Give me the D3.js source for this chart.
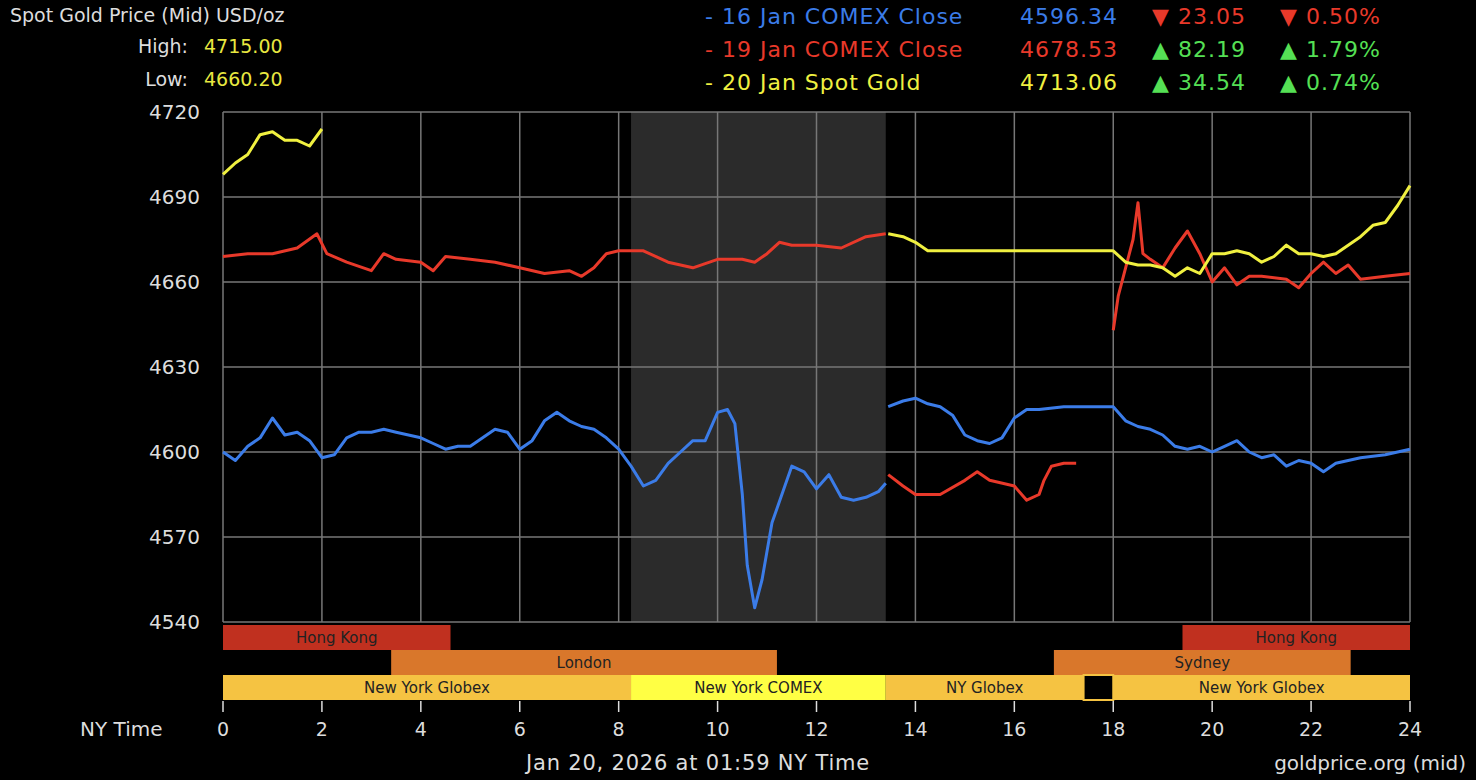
<!DOCTYPE html>
<html><head><meta charset="utf-8">
<script src="https://cdn.jsdelivr.net/npm/d3@7"></script>
<style>body{margin:0;background:#000}svg{display:block;font-family:"DejaVu Sans",Verdana,sans-serif}</style>
</head><body><svg width="1476" height="780"></svg>
<script>
// [hour, price] per series, segments split where the feed gaps
var blueA = [[0,4600],[0.25,4597],[0.5,4602],[0.75,4605],[1,4612],[1.25,4606],[1.5,4607],[1.75,4604],[2,4598],[2.25,4599],[2.5,4605],[2.75,4607],[3,4607],[3.25,4608],[3.5,4607],[3.75,4606],[4,4605],[4.25,4603],[4.5,4601],[4.75,4602],[5,4602],[5.25,4605],[5.5,4608],[5.75,4607],[6,4601],[6.25,4604],[6.5,4611],[6.75,4614],[7,4611],[7.25,4609],[7.5,4608],[7.75,4605],[8,4601],[8.25,4595],[8.5,4588],[8.75,4590],[9,4596],[9.25,4600],[9.5,4604],[9.75,4604],[10,4614],[10.2,4615],[10.35,4610],[10.5,4585],[10.6,4560],[10.75,4545],[10.9,4555],[11.1,4575],[11.3,4585],[11.5,4595],[11.75,4593],[12,4587],[12.25,4592],[12.5,4584],[12.75,4583],[13,4584],[13.25,4586],[13.4,4589]];
var blueB = [[13.45,4616],[13.75,4618],[14,4619],[14.25,4617],[14.5,4616],[14.75,4613],[15,4606],[15.25,4604],[15.5,4603],[15.75,4605],[16,4612],[16.25,4615],[16.5,4615],[17,4616],[17.5,4616],[18,4616],[18.25,4611],[18.5,4609],[18.75,4608],[19,4606],[19.25,4602],[19.5,4601],[19.75,4602],[20,4600],[20.25,4602],[20.5,4604],[20.75,4600],[21,4598],[21.25,4599],[21.5,4595],[21.75,4597],[22,4596],[22.25,4593],[22.5,4596],[22.75,4597],[23,4598],[23.5,4599],[24,4601]];
var redA = [[0,4669],[0.5,4670],[1,4670],[1.5,4672],[1.9,4677],[2.1,4670],[2.5,4667],[3,4664],[3.25,4670],[3.5,4668],[4,4667],[4.25,4664],[4.5,4669],[5,4668],[5.5,4667],[6,4665],[6.5,4663],[7,4664],[7.25,4662],[7.5,4665],[7.75,4670],[8,4671],[8.5,4671],[9,4667],[9.5,4665],[10,4668],[10.5,4668],[10.75,4667],[11,4670],[11.25,4674],[11.5,4673],[12,4673],[12.5,4672],[13,4676],[13.4,4677]];
var redB = [[13.45,4592],[13.75,4588],[14,4585],[14.5,4585],[15,4590],[15.25,4593],[15.5,4590],[16,4588],[16.25,4583],[16.5,4585],[16.6,4590],[16.75,4595],[17,4596],[17.25,4596]];
var redC = [[18,4643],[18.1,4655],[18.25,4665],[18.4,4675],[18.5,4688],[18.6,4670],[18.75,4668],[19,4665],[19.25,4672],[19.5,4678],[19.75,4670],[20,4660],[20.25,4665],[20.5,4659],[20.75,4662],[21,4662],[21.5,4661],[21.75,4658],[22,4663],[22.25,4667],[22.5,4663],[22.75,4666],[23,4661],[23.5,4662],[24,4663]];
var yelA = [[0,4698],[0.25,4702],[0.5,4705],[0.75,4712],[1,4713],[1.25,4710],[1.5,4710],[1.75,4708],[2,4714]];
var yelB = [[13.45,4677],[13.75,4676],[14,4674],[14.25,4671],[14.5,4671],[15,4671],[16,4671],[17,4671],[18,4671],[18.25,4667],[18.5,4666],[18.75,4666],[19,4665],[19.25,4662],[19.5,4665],[19.75,4663],[20,4670],[20.25,4670],[20.5,4671],[20.75,4670],[21,4667],[21.25,4669],[21.5,4673],[21.75,4670],[22,4670],[22.25,4669],[22.5,4670],[22.75,4673],[23,4676],[23.25,4680],[23.5,4681],[23.75,4687],[24,4694]];
var yTicks = [4540,4570,4600,4630,4660,4690,4720];
var xTicks = [0,2,4,6,8,10,12,14,16,18,20,22,24];
var sessions = [
  {row:0,a:0,b:4.6,name:"Hong Kong",c:"#c0301f"},{row:0,a:19.4,b:24,name:"Hong Kong",c:"#c0301f"},
  {row:1,a:3.4,b:11.2,name:"London",c:"#d9772b"},{row:1,a:16.8,b:22.8,name:"Sydney",c:"#d9772b"},
  {row:2,a:0,b:8.25,name:"New York Globex",c:"#f5c342"},{row:2,a:8.25,b:13.4,name:"New York COMEX",c:"#ffff44"},
  {row:2,a:13.4,b:17.4,name:"NY Globex",c:"#f5c342"},{row:2,a:18,b:24,name:"New York Globex",c:"#f5c342"}];
var legend = [
  {label:"- 16 Jan COMEX Close",c:"#3b7ce8",price:"4596.34",chg:"▼ 23.05",pct:"▼ 0.50%",up:false},
  {label:"- 19 Jan COMEX Close",c:"#e8392a",price:"4678.53",chg:"▲ 82.19",pct:"▲ 1.79%",up:true},
  {label:"- 20 Jan Spot Gold",c:"#f0f040",price:"4713.06",chg:"▲ 34.54",pct:"▲ 0.74%",up:true}];

var svg = d3.select("svg");
var x = d3.scaleLinear().domain([0,24]).range([223,1410]);
var y = d3.scaleLinear().domain([4540,4720]).range([622,112]);

svg.append("rect").attr("x",x(8.25)).attr("y",112).attr("width",x(13.4)-x(8.25)).attr("height",622-112).attr("fill","#2b2b2b");

var g = svg.append("g").attr("stroke","#777").attr("stroke-width",1.5);
yTicks.forEach(function(v){ g.append("line").attr("x1",223).attr("x2",1410).attr("y1",y(v)).attr("y2",y(v)); });
xTicks.forEach(function(v){ g.append("line").attr("x1",x(v)).attr("x2",x(v)).attr("y1",112).attr("y2",622); });

svg.selectAll(".yl").data(yTicks).enter().append("text").attr("x",200).attr("y",function(d){return y(d)+7;})
  .attr("text-anchor","end").attr("fill","#ddd").attr("font-size",20).text(function(d){return d;});
svg.selectAll(".xl").data(xTicks).enter().append("text").attr("x",function(d){return x(d);}).attr("y",736)
  .attr("text-anchor","middle").attr("fill","#ddd").attr("font-size",19).text(function(d){return d;});
svg.selectAll(".xt").data(xTicks).enter().append("line").attr("x1",function(d){return x(d);}).attr("x2",function(d){return x(d);})
  .attr("y1",701).attr("y2",712).attr("stroke","#ddd").attr("stroke-width",1.5);

var line = d3.line().x(function(d){return x(d[0]);}).y(function(d){return y(d[1]);});
[[blueA,"#3b7ce8"],[blueB,"#3b7ce8"],[redA,"#e8392a"],[redB,"#e8392a"],[redC,"#e8392a"],[yelA,"#f0f040"],[yelB,"#f0f040"]].forEach(function(s){
  svg.append("path").datum(s[0]).attr("d",line).attr("fill","none").attr("stroke",s[1]).attr("stroke-width",3).attr("stroke-linejoin","round");
});

var rowY = [625,650,675];
sessions.forEach(function(s){
  svg.append("rect").attr("x",x(s.a)).attr("y",rowY[s.row]).attr("width",x(s.b)-x(s.a)).attr("height",25).attr("fill",s.c);
  svg.append("text").attr("x",(x(s.a)+x(s.b))/2).attr("y",rowY[s.row]+18).attr("text-anchor","middle")
    .attr("font-size",15).attr("fill","#222").text(s.name);
});
svg.append("rect").attr("x",x(17.4)).attr("y",675).attr("width",x(18)-x(17.4)).attr("height",25).attr("fill","#000").attr("stroke","#f5c342").attr("stroke-width",2);

svg.append("text").attr("x",10).attr("y",22).attr("fill","#ddd").attr("font-size",19).text("Spot Gold Price (Mid) USD/oz");
svg.append("text").attr("x",188).attr("y",53).attr("text-anchor","end").attr("fill","#ddd").attr("font-size",19).text("High:");
svg.append("text").attr("x",204).attr("y",53).attr("fill","#e8e840").attr("font-size",19).text("4715.00");
svg.append("text").attr("x",188).attr("y",86).attr("text-anchor","end").attr("fill","#ddd").attr("font-size",19).text("Low:");
svg.append("text").attr("x",204).attr("y",86).attr("fill","#e8e840").attr("font-size",19).text("4660.20");

legend.forEach(function(l,i){
  var ly = 24 + i*33;
  var t = function(xx, txt, col){
    svg.append("text").attr("x",xx).attr("y",ly).attr("fill",col).attr("font-size",22)
      .attr("letter-spacing",1).text(txt);
  };
  var cc = l.up ? "#55e055" : "#e8392a";
  t(705, l.label, l.c); t(1020, l.price, l.c); t(1152, l.chg, cc); t(1280, l.pct, cc);
});

svg.append("text").attr("x",80).attr("y",736).attr("fill","#ddd").attr("font-size",20).text("NY Time");
svg.append("text").attr("x",698).attr("y",770).attr("text-anchor","middle").attr("fill","#ddd").attr("font-size",21).attr("letter-spacing",0.8).text("Jan 20, 2026 at 01:59 NY Time");
svg.append("text").attr("x",1466).attr("y",770).attr("text-anchor","end").attr("fill","#ddd").attr("font-size",20).text("goldprice.org (mid)");
</script></body></html>
